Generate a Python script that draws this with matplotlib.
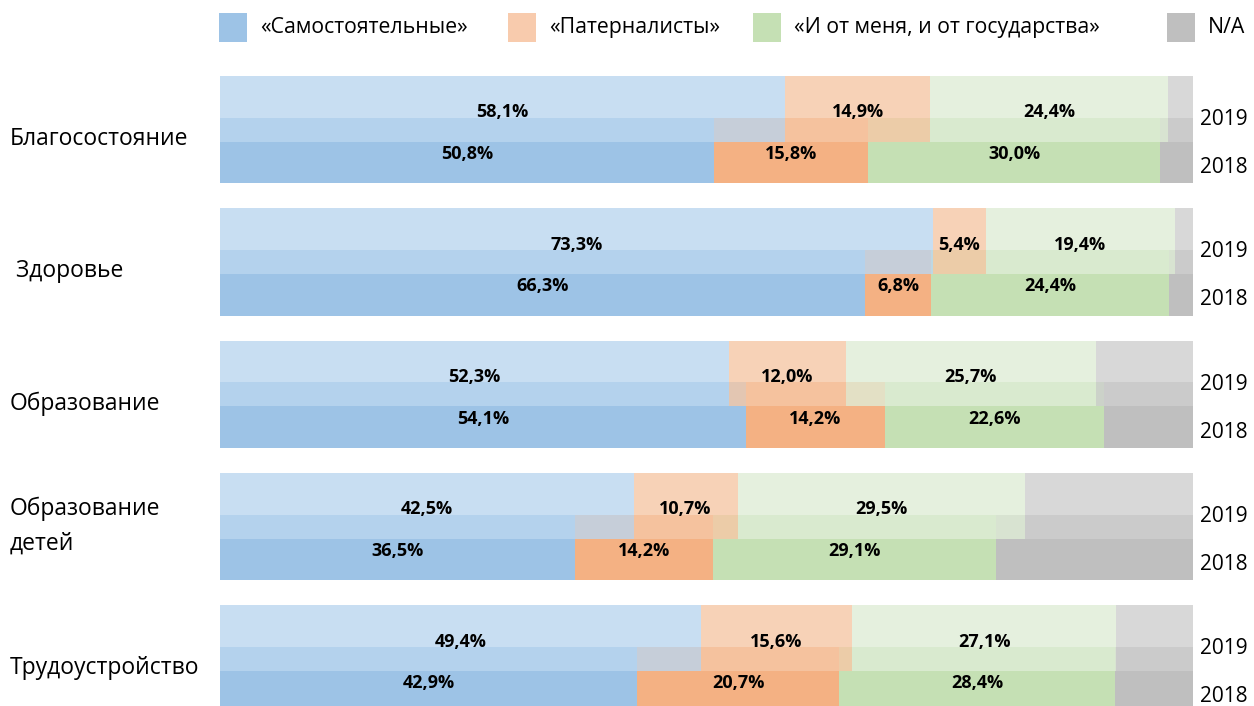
import matplotlib
matplotlib.use("Agg")
import matplotlib.pyplot as plt
import matplotlib.transforms as mtransforms
from matplotlib.patches import Rectangle

plt.rcParams['font.family'] = ['Open Sans', 'DejaVu Sans']

categories = ["Благосостояние", " Здоровье", "Образование", "Образование\nдетей", "Трудоустройство"]
series = ["«Самостоятельные»", "«Патерналисты»", "«И от меня, и от государства»", "N/A"]

# 2019
self_2019 = [58.1, 73.3, 52.3, 42.5, 49.4]
pater_2019 = [14.9, 5.4, 12.0, 10.7, 15.6]
both_2019 = [24.4, 19.4, 25.7, 29.5, 27.1]
na_2019 = [2.6, 1.9, 10.0, 17.3, 7.9]
# 2018
self_2018 = [50.8, 66.3, 54.1, 36.5, 42.9]
pater_2018 = [15.8, 6.8, 14.2, 14.2, 20.7]
both_2018 = [30.0, 24.4, 22.6, 29.1, 28.4]
na_2018 = [3.4, 2.5, 9.1, 20.2, 8.0]

years = ["2019", "2018"]

colors_2018 = ["#9DC3E6", "#F4B183", "#C5E0B4", "#BFBFBF"]
colors_2019 = ["#BBD6EF", "#F6C7A5", "#DFEDD6", "#CFCFCF"]
legend_colors = ["#9DC3E6", "#F8CBAD", "#C5E0B4", "#BFBFBF"]

W, H = 1254, 706
fig = plt.figure(figsize=(W / 100, H / 100), dpi=100)
ax = fig.add_axes([220 / W, 0, 973 / W, 1])
ax.set_xlim(0, 100)
ax.set_ylim(4.3562, -0.9801)
ax.axis("off")

bar_h = 0.4962
off = 0.1574


def stacked(ypos, parts, colors, alpha, z):
    left = [0] * len(ypos)
    for vals, c in zip(parts, colors):
        ax.barh(ypos, vals, left=left, height=bar_h, color=c, alpha=alpha,
                linewidth=0, zorder=z)
        for y, l, v in zip(ypos, left, vals):
            if c != colors[-1]:
                ax.text(l + v / 2, y + 0.065, f"{v:.1f}%".replace(".", ","),
                        ha="center", va="baseline", fontsize=13,
                        fontweight="bold", zorder=5)
        left = [a + b for a, b in zip(left, vals)]


idx = list(range(len(categories)))
stacked([i + off for i in idx], [self_2018, pater_2018, both_2018, na_2018],
        colors_2018, 1.0, 2)
stacked([i - off for i in idx], [self_2019, pater_2019, both_2019, na_2019],
        colors_2019, 0.8, 3)

# category and year labels
trans = mtransforms.blended_transform_factory(fig.transFigure, ax.transData)
for i, cat in enumerate(categories):
    if "\n" in cat:
        # baseline goes to the last line
        ax.text(10 / W, i + 0.177, cat, transform=trans, ha="left",
                va="baseline", fontsize=16.5, linespacing=1.6)
    else:
        ax.text(10 / W, i + 0.116, cat, transform=trans, ha="left",
                va="baseline", fontsize=16.5)
    ax.text(1224 / W, i - 0.036, years[0], transform=trans, ha="center",
            va="baseline", fontsize=15)
    ax.text(1224 / W, i + 0.329, years[1], transform=trans, ha="center",
            va="baseline", fontsize=15)

# legend
patch_x = [219, 508, 753, 1167]
for px, name, c in zip(patch_x, series, legend_colors):
    fig.add_artist(Rectangle((px / W, 1 - 41.7 / H), 28 / W, 28.4 / H,
                             transform=fig.transFigure, color=c, lw=0))
    fig.text((px + 41) / W, 1 - 27.5 / H, name, ha="left", va="center",
             fontsize=15.3)

fig.savefig("out.png", dpi=100)
